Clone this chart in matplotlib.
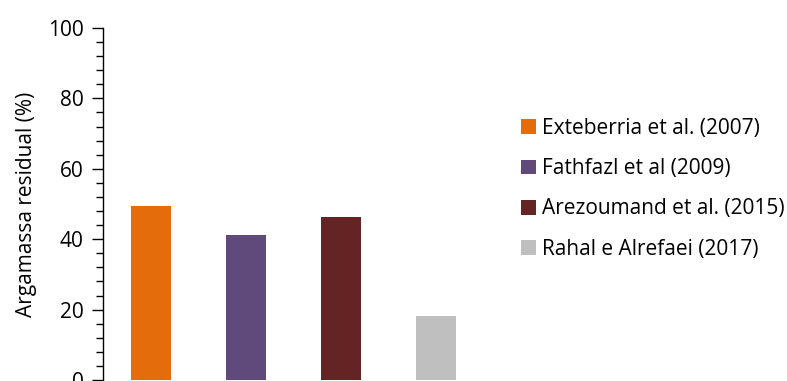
import matplotlib
matplotlib.use("Agg")
import matplotlib.pyplot as plt
from matplotlib.patches import Patch
from matplotlib.ticker import MultipleLocator

plt.rcParams['font.family'] = ['Open Sans', 'DejaVu Sans']

studies = ["Exteberria et al. (2007)", "Fathfazl et al (2009)",
           "Arezoumand et al. (2015)", "Rahal e Alrefaei (2017)"]
residual_mortar = [49.4, 41.3, 46.4, 18.2]
colors = ["#E46C0A", "#604A7B", "#632423", "#BFBFBF"]

fig = plt.figure(figsize=(7.87, 3.81), dpi=100)
ax = fig.add_axes([0.1309, 0.0026, 0.4835, 0.9239])

x = range(len(studies))
ax.bar(x, residual_mortar, width=0.42, color=colors)

ax.set_xlim(-0.5, 3.5)
ax.set_ylim(0, 100)
ax.yaxis.set_major_locator(MultipleLocator(20))
ax.yaxis.set_minor_locator(MultipleLocator(4))
ax.tick_params(axis='y', which='major', length=8, width=1, labelsize=15, pad=6)
ax.tick_params(axis='y', which='minor', length=5, width=1)
ax.set_xticks([])
for side in ("top", "right", "bottom"):
    ax.spines[side].set_visible(False)
ax.spines["left"].set_linewidth(1)
ax.set_ylabel("Argamassa residual (%)", fontsize=15, labelpad=8)

handles = [Patch(facecolor=c, edgecolor='none') for c in colors]
fig.legend(handles, studies, loc="upper left", bbox_to_anchor=(0.651, 0.712),
           frameon=False, fontsize=15, handlelength=0.72, handleheight=0.72,
           handletextpad=0.3, labelspacing=0.92, borderaxespad=0)

fig.savefig("out.png", dpi=100)
